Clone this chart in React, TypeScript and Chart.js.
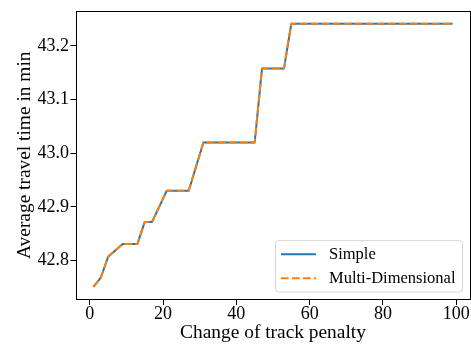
import React, { useEffect, useRef } from "react";
import { Chart, registerables } from "chart.js";

Chart.register(...registerables);

// Breakpoints of the step-like curves (track penalty vs. average travel time)
const penalty = [1, 3, 5, 9, 13, 15, 17, 21, 27, 31, 45, 47, 53, 55, 99];
const simpleTime = [
  42.751, 42.768, 42.807, 42.831, 42.831, 42.872, 42.872, 42.93, 42.93, 43.02,
  43.02, 43.158, 43.158, 43.2415, 43.2415,
];
const multiDimTime = [
  42.751, 42.768, 42.807, 42.831, 42.831, 42.872, 42.872, 42.93, 42.93, 43.02,
  43.02, 43.158, 43.158, 43.2415, 43.2415,
];

const seriesLabels = ["Simple", "Multi-Dimensional"];
const xTickValues = [0, 20, 40, 60, 80, 100];
const xTickLabels = ["0", "20", "40", "60", "80", "100"];
const yTickValues = [42.8, 42.9, 43.0, 43.1, 43.2];
const yTickLabels = ["42.8", "42.9", "43.0", "43.1", "43.2"];

const xTitle = "Change of track penalty";
const yTitle = "Average travel time in min";

const SERIF = "'Liberation Serif', 'Times New Roman', Times, serif";
const BLUE = "#1f77b4";
const ORANGE = "#ff7f0e";

// 5% margins around the data range, like matplotlib's autoscaling
function paddedRange(values: number[]) {
  const lo = Math.min(...values);
  const hi = Math.max(...values);
  const m = (hi - lo) * 0.05;
  return { min: lo - m, max: hi + m };
}

const framePlugin = {
  id: "frame",
  afterDatasetsDraw(chart: any) {
    const { ctx, chartArea } = chart;
    const l = Math.round(chartArea.left) + 0.5;
    const r = Math.round(chartArea.right) - 0.5;
    const t = Math.round(chartArea.top) + 0.5;
    const b = Math.round(chartArea.bottom) - 0.5;
    ctx.save();
    ctx.strokeStyle = "#000";
    ctx.lineWidth = 1;
    ctx.strokeRect(l, t, r - l, b - t);
    ctx.restore();
  },
};

const boxLegendPlugin = {
  id: "boxLegend",
  afterDraw(chart: any) {
    const { ctx, chartArea } = chart;
    const datasets = chart.data.datasets;
    ctx.save();
    ctx.font = `16.5px ${SERIF}`;
    let textW = 0;
    datasets.forEach((d: any) => {
      textW = Math.max(textW, ctx.measureText(d.label).width);
    });
    const handleStart = 5.5;
    const handleLen = 35;
    const textGap = 13;
    const padR = 7;
    const rowH = 24;
    const padTop = 12.7;
    const w = handleStart + handleLen + textGap + textW + padR;
    const h = padTop * 2 + rowH * (datasets.length - 1) + 2;
    const right = chartArea.right - 8;
    const bottom = chartArea.bottom - 8;
    const left = right - w;
    const top = bottom - h;

    ctx.beginPath();
    ctx.roundRect(left, top, w, h, 3);
    ctx.fillStyle = "rgba(255,255,255,0.8)";
    ctx.fill();
    ctx.strokeStyle = "#d6d6d6";
    ctx.lineWidth = 1;
    ctx.stroke();

    datasets.forEach((d: any, i: number) => {
      const y = top + padTop + i * rowH + 1;
      ctx.beginPath();
      ctx.strokeStyle = d.borderColor;
      ctx.lineWidth = d.borderWidth;
      ctx.setLineDash(d.borderDash || []);
      ctx.moveTo(left + handleStart, y);
      ctx.lineTo(left + handleStart + handleLen, y);
      ctx.stroke();
      ctx.setLineDash([]);
      ctx.fillStyle = "#000";
      ctx.textAlign = "left";
      ctx.textBaseline = "middle";
      ctx.fillText(d.label, left + handleStart + handleLen + textGap, y);
    });
    ctx.restore();
  },
};

export default function App() {
  const canvasRef = useRef<HTMLCanvasElement | null>(null);

  useEffect(() => {
    if (!canvasRef.current) return;
    const xr = paddedRange(penalty);
    const yr = paddedRange([...simpleTime, ...multiDimTime]);

    const chart = new Chart(canvasRef.current, {
      type: "line",
      data: {
        datasets: [
          {
            label: seriesLabels[0],
            data: penalty.map((x, i) => ({ x, y: simpleTime[i] })),
            borderColor: BLUE,
            backgroundColor: BLUE,
            borderWidth: 2,
            pointRadius: 0,
            tension: 0,
            borderJoinStyle: "round",
            fill: false,
            order: 2,
          },
          {
            // drawn over the solid line
            label: seriesLabels[1],
            data: penalty.map((x, i) => ({ x, y: multiDimTime[i] })),
            borderColor: ORANGE,
            backgroundColor: ORANGE,
            borderWidth: 2,
            borderDash: [7.7, 3.3],
            pointRadius: 0,
            tension: 0,
            borderJoinStyle: "round",
            fill: false,
            order: 1,
          },
        ],
      },
      options: {
        responsive: false,
        animation: false,
        devicePixelRatio: 1,
        layout: { padding: { top: 6, right: 0.5, left: 0, bottom: 0 } },
        plugins: {
          legend: { display: false },
          tooltip: { enabled: false },
        },
        scales: {
          x: {
            type: "linear",
            min: xr.min,
            max: xr.max,
            afterBuildTicks: (scale: any) => {
              scale.ticks = xTickValues.map((v) => ({ value: v }));
            },
            afterFit: (scale: any) => {
              scale.height = 47;
            },
            border: { display: false },
            grid: {
              drawOnChartArea: false,
              drawTicks: true,
              tickLength: 5,
              tickColor: "#000",
              tickWidth: 1,
            },
            ticks: {
              color: "#000",
              font: { family: SERIF, size: 18, lineHeight: 1 },
              padding: 0,
              maxRotation: 0,
              autoSkip: false,
              callback: (_v: any, i: number) => xTickLabels[i],
            },
            title: {
              display: true,
              text: xTitle,
              color: "#000",
              font: { family: SERIF, size: 19.4, lineHeight: 1.2 },
              padding: { top: 0, bottom: 2.9 },
            },
          },
          y: {
            type: "linear",
            min: yr.min,
            max: yr.max,
            afterBuildTicks: (scale: any) => {
              scale.ticks = yTickValues.map((v) => ({ value: v }));
            },
            afterFit: (scale: any) => {
              scale.width = 75.5;
            },
            border: { display: false },
            grid: {
              drawOnChartArea: false,
              drawTicks: true,
              tickLength: 5,
              tickColor: "#000",
              tickWidth: 1,
            },
            ticks: {
              color: "#000",
              font: { family: SERIF, size: 18, lineHeight: 1 },
              padding: 1.5,
              autoSkip: false,
              callback: (_v: any, i: number) => yTickLabels[i],
            },
            title: {
              display: true,
              text: yTitle,
              color: "#000",
              font: { family: SERIF, size: 19.4, lineHeight: 1.2 },
              padding: { top: 12.9, bottom: 0 },
            },
          },
        },
      },
      plugins: [framePlugin, boxLegendPlugin],
    } as any);

    return () => chart.destroy();
  }, []);

  return (
    <div style={{ position: "absolute", left: 0, top: 0, width: 471, height: 347, background: "#fff" }}>
      <canvas ref={canvasRef} width={471} height={347} style={{ display: "block" }} />
    </div>
  );
}
